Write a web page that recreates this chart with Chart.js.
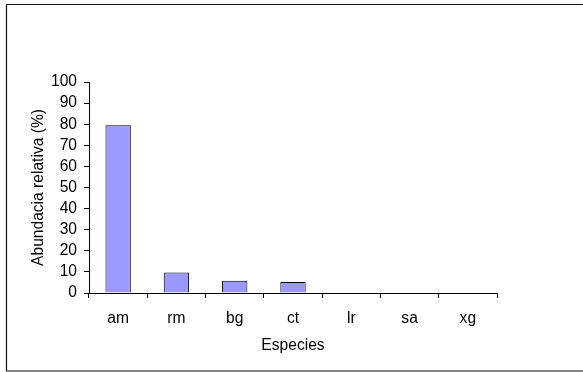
<!DOCTYPE html>
<html>
<head>
<meta charset="utf-8">
<script src="https://cdn.jsdelivr.net/npm/chart.js@4/dist/chart.umd.min.js"></script>
<style>
  html, body { margin: 0; padding: 0; background: #fff; overflow: hidden; }
  canvas { display: block; }
</style>
</head>
<body>
<canvas id="chart" width="583" height="372"></canvas>
<script>
// Species codes along the x axis
const especies = ['am', 'rm', 'bg', 'ct', 'lr', 'sa', 'xg'];
// Relative abundance per species (%)
const abundancia = [79.5, 9.7, 5.8, 5.2, 0, 0, 0];
// Y axis range and step
const yMin = 0;
const yMax = 100;
const yStep = 10;

const FONT = "'Liberation Sans', Arial, sans-serif";
const FSIZE = 15.6;

// Outer frame: top, left and bottom edges; it runs on past the right edge of the canvas
const framePlugin = {
  id: 'frame',
  beforeDraw(chart) {
    const ctx = chart.ctx;
    const w = chart.width;
    ctx.save();
    ctx.fillStyle = '#fff';
    ctx.fillRect(0, 0, w, chart.height);
    ctx.strokeStyle = '#111';
    ctx.lineWidth = 1.2;
    ctx.beginPath();
    ctx.moveTo(w + 5, 4.5);
    ctx.lineTo(6.5, 4.5);
    ctx.lineTo(6.5, 371);
    ctx.lineTo(w + 5, 371);
    ctx.stroke();
    ctx.restore();
  }
};

new Chart(document.getElementById('chart'), {
  type: 'bar',
  data: {
    labels: especies,
    datasets: [{
      data: abundancia,
      backgroundColor: '#9999ff',
      borderColor: '#000000',
      borderWidth: 1,
      barPercentage: 0.435,
      categoryPercentage: 1.0
    }]
  },
  plugins: [framePlugin],
  options: {
    responsive: false,
    animation: false,
    layout: { padding: { left: 0, top: 82, right: 86, bottom: 0 } },
    plugins: { legend: { display: false }, tooltip: { enabled: false } },
    scales: {
      x: {
        offset: true,
        grid: { display: true, offset: true, drawOnChartArea: false, drawTicks: true,
                tickLength: 5, color: '#000', lineWidth: 1 },
        border: { display: true, color: '#000', width: 1 },
        ticks: { color: '#000', font: { family: FONT, size: FSIZE }, padding: 11,
                 maxRotation: 0, autoSkip: false },
        title: { display: true, text: 'Especies', color: '#000',
                 font: { family: FONT, size: FSIZE }, padding: { top: 0, bottom: 17 } },
        afterFit: s => { s.height = 79; }
      },
      y: {
        min: yMin,
        max: yMax,
        grid: { display: true, drawOnChartArea: false, drawTicks: true,
                tickLength: 5, color: '#000', lineWidth: 1 },
        border: { display: true, color: '#000', width: 1 },
        ticks: { stepSize: yStep, color: '#000', font: { family: FONT, size: FSIZE },
                 padding: 7, autoSkip: false },
        title: { display: true, text: 'Abundacia relativa (%)', color: '#000',
                 font: { family: FONT, size: FSIZE }, padding: { top: 29, bottom: 0 } },
        afterFit: s => { s.width = 89; }
      }
    }
  }
});
</script>
</body>
</html>
